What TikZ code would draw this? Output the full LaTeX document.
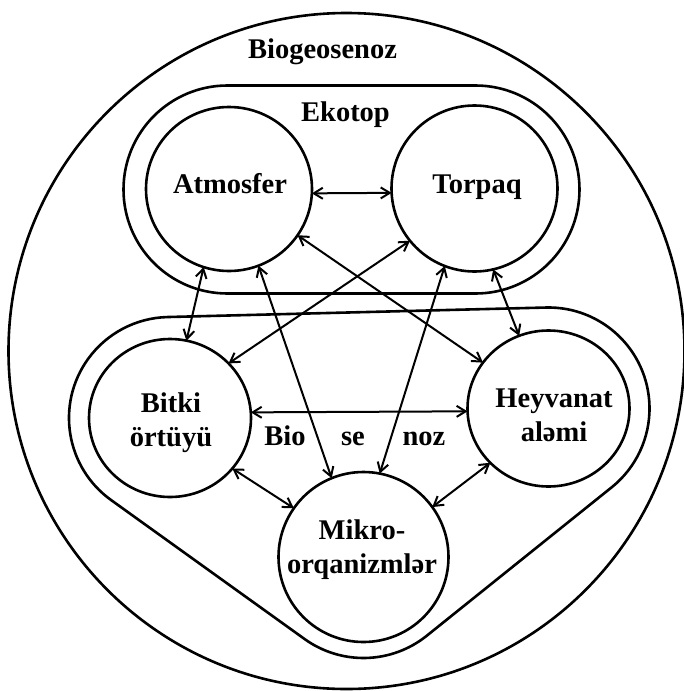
\documentclass[tikz,border=0pt]{standalone}
\usepackage{fontspec}
\setmainfont{Liberation Serif}
\usetikzlibrary{arrows.meta,shapes.geometric}
\begin{document}
\begin{tikzpicture}[x=1pt,y=-1pt,
  outline/.style={line width=2.6pt, line join=round},
  part/.style={ellipse, draw, line width=2.6pt, inner sep=0pt, outer sep=0pt},
  lbl/.style={font=\fontsize{28.5}{34}\selectfont\bfseries, inner sep=0pt, align=center},
  link/.style={line width=2pt, {Straight Barb[length=9pt,width=11pt]}-{Straight Barb[length=9pt,width=11pt]}}
]
\fill[white] (0,0) rectangle (684,691);
\useasboundingbox (0,0) rectangle (684,691);

% biogeocenosis: the outer circle
\draw[outline] (346.5,351) circle[radius=338];
\node[lbl, anchor=base] (biogeo) at (322.5,58) {Biogeosenoz};

% ecotope: stadium around atmosphere and soil
\draw[outline, rounded corners=104pt] (123.5,85.5) rectangle (579.5,293.5);
\node[lbl, anchor=base] (ekotop) at (345.5,121) {Ekotop};

% biocenosis: hull of three circles (radius 101) round plants, animals, microbes
\draw[outline] (167.47,317.03) -- (545.97,307.53)
  arc[start angle=-91.44, end angle=51.25, radius=101]
  -- (426.72,635.76)
  arc[start angle=51.25, end angle=125.69, radius=101]
  -- (111.07,500.03)
  arc[start angle=125.69, end angle=268.56, radius=101] -- cycle;

% components
\node[part, minimum width=166pt, minimum height=164pt] (atm) at (229,189) {};
\node[part, minimum width=166pt, minimum height=166pt] (tor) at (474.5,188.5) {};
\node[part, minimum width=162pt, minimum height=158pt] (bit) at (170,418) {};
\node[part, minimum width=162pt, minimum height=156pt] (hey) at (548.5,408.5) {};
\node[part, minimum width=170pt, minimum height=170pt] (mik) at (363.5,557) {};

\node[lbl, anchor=base] (atm-t) at (230,193) {Atmosfer};
\node[lbl, anchor=base] (tor-t) at (477,193) {Torpaq};
\node[lbl] (bit-t) at (171,422.5) {Bitki\\örtüyü};
\node[lbl] (hey-t) at (554,415.5) {Heyvanat\\aləmi};
\node[lbl] (mik-t) at (362,549.5) {Mikro-\\orqanizmlər};

\node[lbl, anchor=base] (bio1) at (285,445) {Bio};
\node[lbl, anchor=base] (bio2) at (353,445) {se};
\node[lbl, anchor=base] (bio3) at (424,445) {noz};

% interactions
\draw[link] (atm.-3) -- (tor.183);
\draw[link] (atm.-108) -- (bit.78.5);
\draw[link] (atm.-69.7) -- (mik.112);
\draw[link] (atm.-34.6) -- (hey.145.8);
\draw[link] (tor.-141.6) -- (bit.43.6);
\draw[link] (tor.-111) -- (mik.79);
\draw[link] (tor.-77.5) -- (hey.112);
\draw[link] (bit.4) -- (hey.182.5);
\draw[link] (bit.-39) -- (mik.145.6);
\draw[link] (hey.-137.7) -- (mik.36.8);
\end{tikzpicture}
\end{document}
